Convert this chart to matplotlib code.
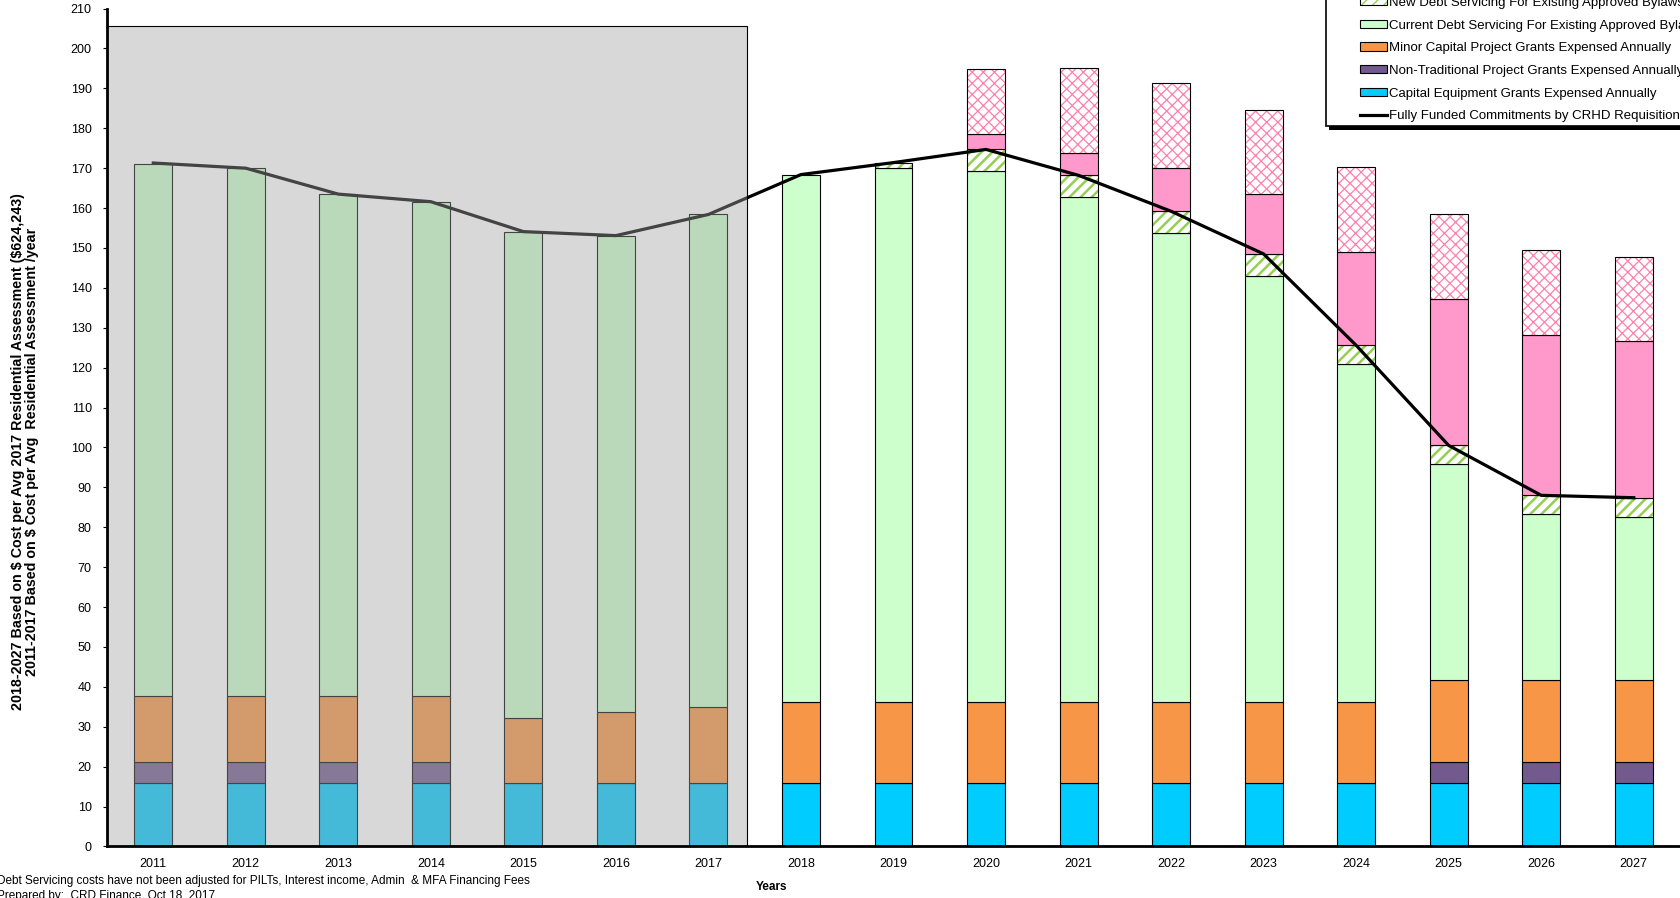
import matplotlib
matplotlib.use("Agg")
import matplotlib.pyplot as plt
import numpy as np
from matplotlib.patches import Patch, Rectangle
from matplotlib.lines import Line2D

plt.rcParams['font.family'] = ['Liberation Sans', 'DejaVu Sans']

# ---- data ($ / year) ----
years = [2011, 2012, 2013, 2014, 2015, 2016, 2017, 2018, 2019,
         2020, 2021, 2022, 2023, 2024, 2025, 2026, 2027]
capital_equipment = [15.8, 15.8, 15.8, 15.8, 15.8, 15.8, 15.8, 15.8, 15.8,
                     15.8, 15.8, 15.8, 15.8, 15.8, 15.8, 15.8, 15.8]
non_traditional = [5.4, 5.4, 5.4, 5.4, 0, 0, 0, 0, 0,
                   0, 0, 0, 0, 0, 5.4, 5.4, 5.4]
minor_capital = [16.5, 16.5, 16.5, 16.5, 16.4, 17.8, 19.1, 20.4, 20.4,
                 20.4, 20.4, 20.4, 20.4, 20.4, 20.4, 20.4, 20.4]
current_debt = [133.4, 132.3, 125.8, 123.9, 121.9, 119.5, 123.5, 132.2, 133.8,
                133.1, 126.6, 117.6, 106.8, 84.6, 54.2, 41.7, 41.0]
new_debt = [0, 0, 0, 0, 0, 0, 0, 0, 1.4,
            5.4, 5.4, 5.4, 5.5, 4.8, 4.7, 4.7, 4.7]
pink_solid = [0, 0, 0, 0, 0, 0, 0, 0, 0,
              3.8, 5.5, 10.8, 15.0, 23.3, 36.7, 40.1, 39.3]
pink_hatched = [0, 0, 0, 0, 0, 0, 0, 0, 0,
                16.3, 21.3, 21.3, 21.2, 21.3, 21.2, 21.4, 21.2]
fully_funded = [171.3, 170.0, 163.5, 161.6, 154.1, 153.1, 158.4, 168.4, 171.4,
                174.7, 168.2, 159.2, 148.5, 125.6, 100.5, 88.0, 87.4]

C_CYAN = "#00CCFF"
C_PURPLE = "#725A8F"
C_ORANGE = "#F79646"
C_LGREEN = "#CCFFCC"
C_HGREEN = "#92D050"
C_PINK = "#FF99CC"
C_PINKX = "#FF80AA"

W, H = 1680, 898
fig = plt.figure(figsize=(W / 100, H / 100), dpi=100)
ax = fig.add_axes([107 / W, 1 - 846.4 / H, 1 - 107 / W, (846.4 - 8.6) / H])

x = np.arange(len(years))
bw = 0.41
bottom = np.zeros(len(years))

ax.bar(x, capital_equipment, bw, bottom=bottom, color=C_CYAN, edgecolor="black", lw=0.8, zorder=2)
bottom += capital_equipment
ax.bar(x, non_traditional, bw, bottom=bottom, color=C_PURPLE, edgecolor="black", lw=0.8, zorder=2)
bottom += non_traditional
ax.bar(x, minor_capital, bw, bottom=bottom, color=C_ORANGE, edgecolor="black", lw=0.8, zorder=2)
bottom += minor_capital
ax.bar(x, current_debt, bw, bottom=bottom, color=C_LGREEN, edgecolor="black", lw=0.8, zorder=2)
bottom += current_debt

# hatched segments: hatch drawn in edge colour, outline drawn separately
nd = np.array(new_debt)
m = nd > 0
with plt.rc_context({"hatch.linewidth": 1.8}):
    ax.bar(x[m], nd[m], bw, bottom=bottom[m], facecolor="white", edgecolor=C_HGREEN,
           hatch="///", lw=0, zorder=2)
ax.bar(x[m], nd[m], bw, bottom=bottom[m], facecolor="none", edgecolor="black", lw=0.8, zorder=2)
bottom += nd

ps = np.array(pink_solid)
m = ps > 0
ax.bar(x[m], ps[m], bw, bottom=bottom[m], color=C_PINK, edgecolor="black", lw=0.8, zorder=2)
bottom += ps

ph = np.array(pink_hatched)
m = ph > 0
with plt.rc_context({"hatch.linewidth": 0.9}):
    ax.bar(x[m], ph[m], bw, bottom=bottom[m], facecolor="white", edgecolor=C_PINKX,
           hatch="xxx", lw=0, zorder=2)
ax.bar(x[m], ph[m], bw, bottom=bottom[m], facecolor="none", edgecolor="black", lw=0.8, zorder=2)

ax.plot(x, fully_funded, color="black", lw=2.3, zorder=4)

# grey "actuals" overlay for 2011-2017
ax.add_patch(Rectangle((-0.5, 0), 6.92, 205.7, facecolor=(0.64, 0.64, 0.64, 0.42),
                       edgecolor="black", lw=0.8, zorder=5))

ax.set_xlim(-0.5, 16.5)
ax.set_ylim(0, 210)
ax.set_yticks(np.arange(0, 211, 10))
ax.set_xticks(x)
ax.set_xticklabels([str(y) for y in years])
ax.tick_params(axis="x", direction="in", length=3, labelsize=9, pad=8)
ax.tick_params(axis="y", direction="out", length=3, labelsize=9, pad=8)
for s in ("top", "right"):
    ax.spines[s].set_visible(False)
for s in ("left", "bottom"):
    ax.spines[s].set_linewidth(2)
    ax.spines[s].set_zorder(6)

fig.text(25 / W, 1 - 452 / H,
         "2018-2027 Based on \\$ Cost per Avg 2017 Residential Assessment (\\$624,243)\n"
         "2011-2017 Based on \\$ Cost per Avg  Residential Assessment /year",
         rotation=90, ha="center", va="center", fontsize=10.3, fontweight="bold",
         multialignment="center", linespacing=1.05)

fig.text(771 / W, 1 - 887 / H, "Years", ha="center", va="center", fontsize=8.5, fontweight="bold")
foot_font = ["Liberation Sans Narrow", "Liberation Sans", "DejaVu Sans"]
fig.text(-3 / W, 1 - 881 / H,
         "Debt Servicing costs have not been adjusted for PILTs, Interest income, Admin  & MFA Financing Fees",
         ha="left", va="center", fontsize=8.5, family=foot_font)
fig.text(-3 / W, 1 - 896 / H, "Prepared by:  CRD Finance, Oct 18, 2017",
         ha="left", va="center", fontsize=8.5, family=foot_font)

# legend frame drawn by hand (box runs off the top/right of the page)
fig.patches.append(Rectangle((1329 / W, 1 - 129.5 / H), 1.0, 1.0, transform=fig.transFigure,
                             facecolor="black", edgecolor="none", zorder=1))
fig.patches.append(Rectangle((1326 / W, 1 - 126.4 / H), 1.0, 1.0, transform=fig.transFigure,
                             facecolor="white", edgecolor="black", lw=1.2, zorder=1.1))

handles = [
    (Patch(facecolor="white", edgecolor=C_HGREEN, hatch="///", lw=0),
     Patch(facecolor="none", edgecolor="black", lw=0.8)),
    Patch(facecolor=C_LGREEN, edgecolor="black", lw=0.8),
    Patch(facecolor=C_ORANGE, edgecolor="black", lw=0.8),
    Patch(facecolor=C_PURPLE, edgecolor="black", lw=0.8),
    Patch(facecolor=C_CYAN, edgecolor="black", lw=0.8),
    Line2D([], [], color="black", lw=2.3),
]
labels = [
    "New Debt Servicing For Existing Approved Bylaws",
    "Current Debt Servicing For Existing Approved Bylaws",
    "Minor Capital Project Grants Expensed Annually",
    "Non-Traditional Project Grants Expensed Annually",
    "Capital Equipment Grants Expensed Annually",
    "Fully Funded Commitments by CRHD Requisition",
]
leg = fig.legend(handles, labels, loc="lower left",
                 bbox_to_anchor=(1347 / W, 1 - 135.5 / H), bbox_transform=fig.transFigure,
                 fontsize=9.5, frameon=False, handlelength=2.0, handleheight=0.6,
                 handletextpad=0.15, labelspacing=0.81, borderpad=0.5)

fig.savefig("out.png", dpi=100)
